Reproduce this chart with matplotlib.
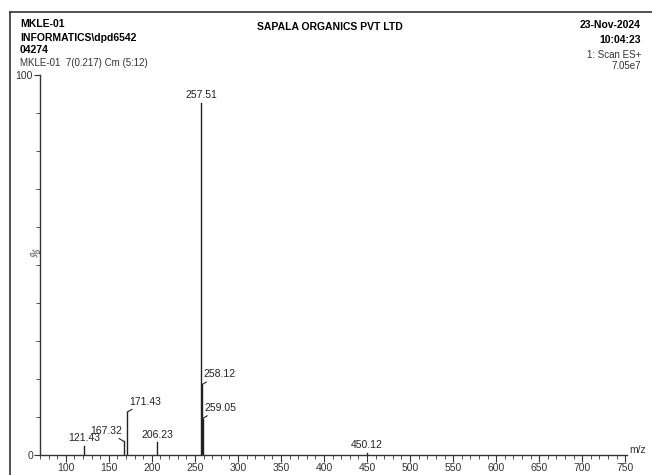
import matplotlib
matplotlib.use("Agg")
import matplotlib.pyplot as plt
from matplotlib.lines import Line2D
from matplotlib.ticker import MultipleLocator

plt.rcParams['font.family'] = ['Liberation Sans', 'DejaVu Sans']

mz = [121.43, 167.32, 171.43, 206.23, 257.51, 258.12, 259.05, 450.12]
intensity = [2.4, 3.6, 11.3, 3.3, 92.6, 18.5, 9.6, 0.5]
labels = ["121.43", "167.32", "171.43", "206.23", "257.51", "258.12", "259.05", "450.12"]
# label offsets in points (dx, dy)
offsets = [(0, 4), (-1.5, 4), (1.5, 4), (0, 4), (0, 4), (1.0, 4), (1.0, 4), (0, 2)]

fig = plt.figure(figsize=(6.52, 4.75), dpi=100)
ax = fig.add_axes([40/652, 1-455/475, (627-40)/652, (455-75)/475])

for x, y in zip(mz, intensity):
    ax.plot([x, x], [0, y], color='#222222', lw=1.0)

for x, y, t, (dx, dy) in zip(mz, intensity, labels, offsets):
    if dx == 0:
        ax.annotate(t, (x, y), xytext=(0, 2), textcoords='offset points',
                    ha='center', va='bottom', fontsize=7.5, color='#222222')
    else:
        ax.annotate(t, (x, y), xytext=(dx, dy), textcoords='offset points',
                    ha='left' if dx > 0 else 'right', va='bottom', fontsize=7.5,
                    color='#222222',
                    arrowprops=dict(arrowstyle='-', color='#222222', lw=0.8,
                                    shrinkA=0, shrinkB=0))

ax.set_xlim(70, 752)
ax.set_ylim(0, 100)
for s in ['top', 'right']:
    ax.spines[s].set_visible(False)
for s in ['left', 'bottom']:
    ax.spines[s].set_color('#333333')
    ax.spines[s].set_linewidth(1.0)

ax.set_xticks(range(100, 751, 50))
ax.xaxis.set_minor_locator(MultipleLocator(10))
ax.tick_params(axis='x', which='major', length=5, width=0.8, labelsize=7.5, pad=1, colors='#333333')
ax.tick_params(axis='x', which='minor', length=3, width=0.6, colors='#333333')
ax.set_yticks([0, 100])
ax.yaxis.set_minor_locator(MultipleLocator(10))
ax.tick_params(axis='y', which='major', length=4, width=0.8, labelsize=7.5, pad=1, colors='#333333')
ax.tick_params(axis='y', which='minor', length=3, width=0.6, colors='#333333')

fig.text(36/652, 1-253/475, '%', fontsize=7.5, rotation=60, ha='center', va='center', color='#333333')
fig.text(629/652, 1-455/475, 'm/z', fontsize=7.5, ha='left', va='bottom', color='#333333')

# frame
fig.add_artist(Line2D([10/652, 10/652], [0, 1-12/475], color='#333333', lw=1.2, transform=fig.transFigure))
fig.add_artist(Line2D([10/652, 1], [1-12/475, 1-12/475], color='#333333', lw=1.2, transform=fig.transFigure))

# header text
fig.text(20/652, 1-27/475, 'MKLE-01', fontsize=7.5, fontweight='bold', va='baseline')
fig.text(20/652, 1-41/475, 'INFORMATICS\\dpd6542', fontsize=7.5, fontweight='bold', va='baseline')
fig.text(20/652, 1-53/475, '04274', fontsize=7.5, fontweight='bold', va='baseline')
fig.text(20/652, 1-66/475, 'MKLE-01  7(0.217) Cm (5:12)', fontsize=7, va='baseline', color='#333333')
fig.text(330/652, 1-30/475, 'SAPALA ORGANICS PVT LTD', fontsize=7.5, fontweight='bold', ha='center', va='baseline')
fig.text(641/652, 1-28/475, '23-Nov-2024', fontsize=7.5, fontweight='bold', ha='right', va='baseline')
fig.text(641/652, 1-43/475, '10:04:23', fontsize=7.5, fontweight='bold', ha='right', va='baseline')
fig.text(641/652, 1-58/475, '1: Scan ES+', fontsize=7, ha='right', va='baseline', color='#333333')
fig.text(641/652, 1-69/475, '7.05e7', fontsize=7, ha='right', va='baseline', color='#333333')

fig.savefig('out.png', dpi=100)
